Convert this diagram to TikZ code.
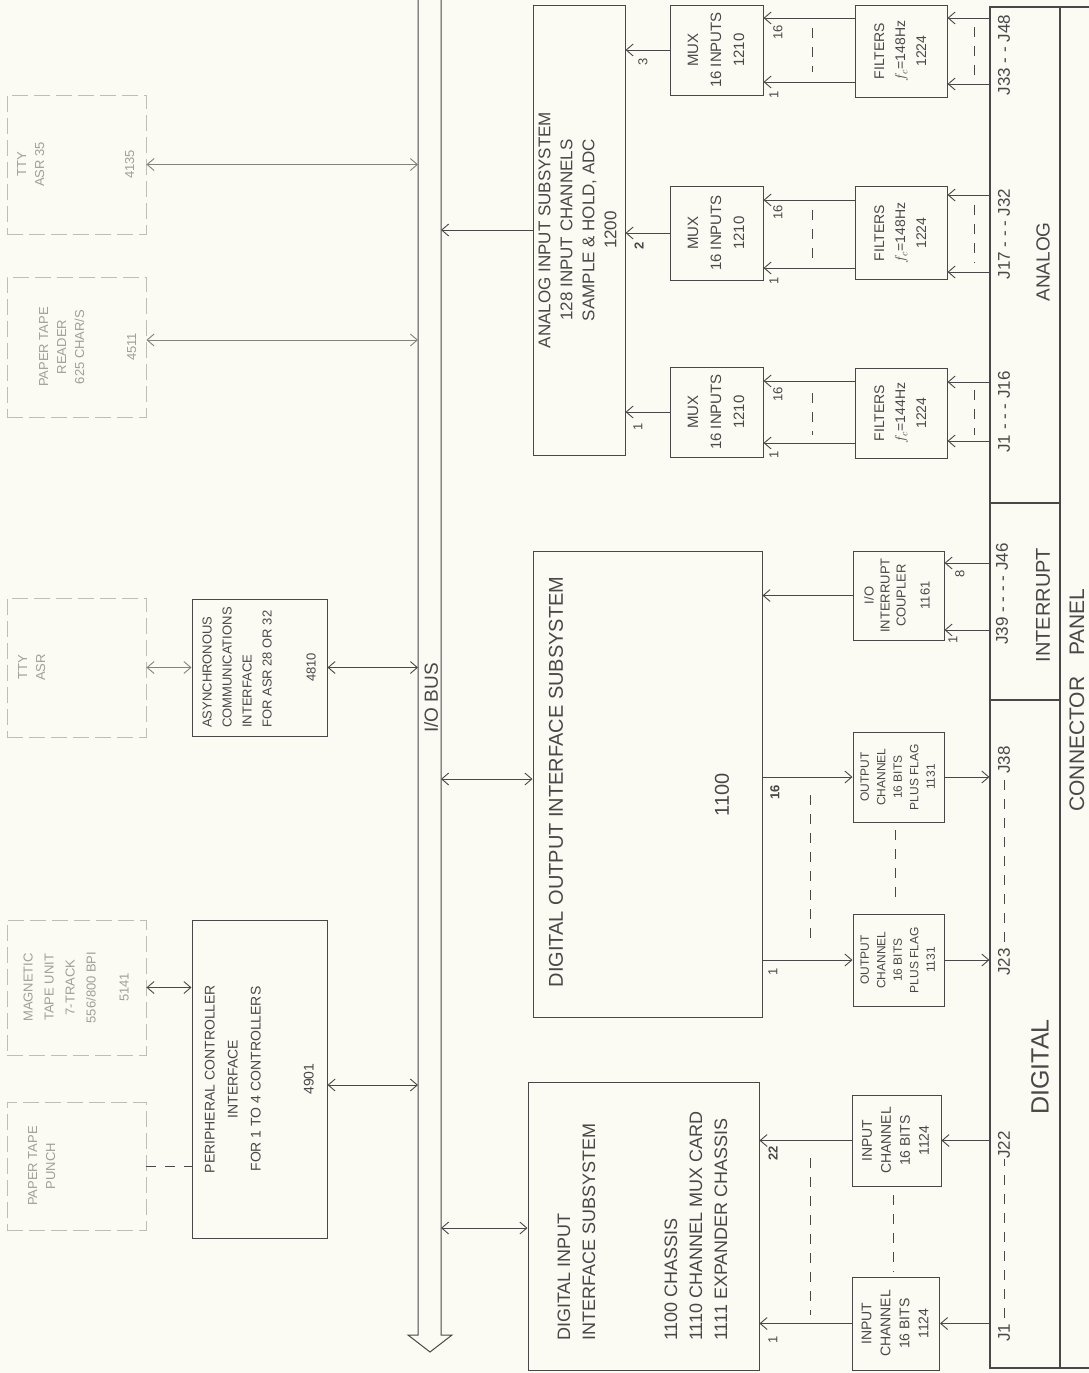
\documentclass[tikz,border=0pt]{standalone}
\usepackage{fontspec}
\setmainfont{Liberation Sans}
\usepackage{graphicx}
\usetikzlibrary{arrows.meta}
\definecolor{paper}{RGB}{251,251,244}
\definecolor{ink}{RGB}{72,72,72}
\definecolor{fade}{RGB}{190,190,184}
\definecolor{fadetext}{RGB}{160,160,155}
\definecolor{midgray}{RGB}{130,130,126}
\newcommand{\vtext}[2][c]{\rotatebox{90}{\begin{tabular}{@{}#1@{}}#2\end{tabular}}}

\begin{document}
\begin{tikzpicture}[
        x=1pt, y=-1pt,
        box/.style={draw=ink, line width=1pt, inner sep=0pt, text=ink},
        devbox/.style={draw=fade, line width=0.9pt, dash pattern=on 16pt off 6pt, inner sep=0pt, text=fadetext, font=\fontsize{13}{18}\selectfont},
        panel/.style={draw=ink, line width=1.1pt, inner sep=0pt},
        txt/.style={inner sep=0pt, text=ink},
        num/.style={txt, font=\fontsize{13}{15}\selectfont},
        jlab/.style={txt, font=\fontsize{17}{20}\selectfont},
        arrow/.style={-{Straight Barb[length=7pt,width=12pt]}, ink, line width=0.9pt},
        dblarrow/.style={{Straight Barb[length=7pt,width=12pt]}-{Straight Barb[length=7pt,width=12pt]}, ink, line width=0.9pt},
        gap/.style={ink, line width=0.9pt, dash pattern=on 10pt off 9pt}
    ]
        \useasboundingbox (0,0) rectangle (1089,1373);
        \fill[paper] (0,0) rectangle (1089,1373);

        % Peripherals (faded)
        \node[devbox, minimum width=139, minimum height=139] (tty35) at (76.5,164.5) {\vtext{TTY\\ASR 35\\[72pt]4135}};
        \node[devbox, minimum width=139, minimum height=140] (reader) at (76.5,347) {\vtext{\\[6pt]PAPER TAPE\\READER\\625 CHAR/S\\[34pt]4511}};
        \node[devbox, minimum width=139, minimum height=139] (tty28) at (76.5,667.5) {\vtext{TTY\\ASR\\[70pt]~}};
        \node[devbox, minimum width=139, minimum height=135, font=\fontsize{13}{21}\selectfont] (magtape) at (76.5,987.5) {\vtext{MAGNETIC\\TAPE UNIT\\7-TRACK\\556/800 BPI\\[12pt]5141}};
        \node[devbox, minimum width=139, minimum height=128] (punch) at (76.5,1166) {\vtext{PAPER TAPE\\PUNCH\\[50pt]~}};

        % Interfaces left of the bus
        \node[box, minimum width=135, minimum height=137, font=\fontsize{13}{20}\selectfont] (async) at (259.5,667.5) {\vtext[l]{ASYNCHRONOUS\\COMMUNICATIONS\\INTERFACE\\FOR ASR 28 OR 32\\[24pt]\multicolumn{1}{c}{4810}}};
        \node[box, minimum width=135, minimum height=318, font=\fontsize{14}{23}\selectfont] (periph) at (259.5,1079) {\vtext{PERIPHERAL CONTROLLER\\INTERFACE\\FOR 1 TO 4 CONTROLLERS\\[30pt]4901}};

        % I/O bus
        \coordinate (busL) at (418,0);
        \coordinate (busR) at (441,0);
        \draw[ink, line width=1pt] (busL |- 0,-5) -- (busL |- 0,1335) -- (408,1335) -- (430,1352) -- (452,1335) -- (busR |- 0,1335) -- (busR |- 0,-5);
        \node[txt, font=\fontsize{19}{22}\selectfont] (buslabel) at (431,698) {\rotatebox{90}{I/O BUS}};

        % Subsystems right of the bus
        \node[box, minimum width=92, minimum height=450, font=\fontsize{17}{22}\selectfont] (analog) at (579,230) {\vtext{ANALOG INPUT SUBSYSTEM\\128 INPUT CHANNELS\\SAMPLE \& HOLD, ADC\\1200}};
        \node[box, minimum width=229, minimum height=466] (dout) at (647.5,784) {};
        \node[txt, font=\fontsize{20}{24}\selectfont] (douttitle) at (556,782) {\rotatebox{90}{DIGITAL OUTPUT INTERFACE SUBSYSTEM}};
        \node[txt, font=\fontsize{20}{24}\selectfont] (doutnum) at (722,795) {\rotatebox{90}{1100}};
        \node[box, minimum width=231, minimum height=288, font=\fontsize{18}{25}\selectfont] (din) at (643.5,1226) {\vtext[l]{DIGITAL INPUT\\INTERFACE SUBSYSTEM\\[57pt]1100 CHASSIS\\1110 CHANNEL MUX CARD\\1111 EXPANDER CHASSIS}};

        % Multiplexers and filters
        \node[box, minimum width=93, minimum height=90, font=\fontsize{15}{23}\selectfont] (mux3) at (716.5,50) {\vtext{MUX\\16 INPUTS\\1210}};
        \node[box, minimum width=93, minimum height=94, font=\fontsize{15}{23}\selectfont] (mux2) at (716.5,233) {\vtext{MUX\\16 INPUTS\\1210}};
        \node[box, minimum width=93, minimum height=90, font=\fontsize{15}{23}\selectfont] (mux1) at (716.5,412) {\vtext{MUX\\16 INPUTS\\1210}};
        \node[box, minimum width=92, minimum height=92, font=\fontsize{14}{21}\selectfont] (filt3) at (901,51) {\vtext{FILTERS\\$f_c$=148Hz\\1224}};
        \node[box, minimum width=92, minimum height=93, font=\fontsize{14}{21}\selectfont] (filt2) at (901,233) {\vtext{FILTERS\\$f_c$=148Hz\\1224}};
        \node[box, minimum width=92, minimum height=90, font=\fontsize{14}{21}\selectfont] (filt1) at (901,413) {\vtext{FILTERS\\$f_c$=144Hz\\1224}};

        % Digital channel cards
        \node[box, minimum width=91, minimum height=89, font=\fontsize{13}{16}\selectfont] (coupler) at (898.5,595.5) {\vtext{I/O\\INTERRUPT\\COUPLER\\[8pt]1161}};
        \node[box, minimum width=91, minimum height=90, font=\fontsize{12}{16.5}\selectfont] (out1) at (898.5,777) {\vtext{OUTPUT\\CHANNEL\\16 BITS\\PLUS FLAG\\1131}};
        \node[box, minimum width=91, minimum height=92, font=\fontsize{12}{16.5}\selectfont] (out2) at (898.5,960) {\vtext{OUTPUT\\CHANNEL\\16 BITS\\PLUS FLAG\\1131}};
        \node[box, minimum width=89, minimum height=91, font=\fontsize{14}{19}\selectfont] (in1) at (896.5,1140.5) {\vtext{INPUT\\CHANNEL\\16 BITS\\1124}};
        \node[box, minimum width=87, minimum height=93, font=\fontsize{14}{19}\selectfont] (in2) at (896,1323.5) {\vtext{INPUT\\CHANNEL\\16 BITS\\1124}};

        % Connector panel
        \node[panel, minimum width=120, minimum height=1361] (cpanel) at (1050,687.5) {};
        \node[panel, minimum width=70, minimum height=496] (asec) at (1025,255) {};
        \node[panel, minimum width=70, minimum height=197] (isec) at (1025,601.5) {};
        \node[panel, minimum width=70, minimum height=668] (dsec) at (1025,1034) {};
        \node[txt, font=\fontsize{19}{22}\selectfont] (analoglab) at (1043,262) {\rotatebox{90}{ANALOG}};
        \node[txt, font=\fontsize{20}{22}\selectfont] (intlab) at (1043,605) {\rotatebox{90}{INTERRUPT}};
        \node[txt, font=\fontsize{25}{28}\selectfont] (diglab) at (1040,1067) {\rotatebox{90}{DIGITAL}};
        \node[txt, font=\fontsize{21}{24}\selectfont] (cplab) at (1077,700) {\rotatebox{90}{CONNECTOR\quad PANEL}};
        \node[jlab] (j3348) at (1004,55) {\rotatebox{90}{J33 - - J48}};
        \node[jlab] (j1732) at (1004,234) {\rotatebox{90}{J17 - - - J32}};
        \node[jlab] (j0116) at (1004,412) {\rotatebox{90}{J1 - - - J16}};
        \node[jlab] (j3946) at (1002,594) {\rotatebox{90}{J39 - - - - J46}};
        \node[jlab] (j38) at (1004,760) {\rotatebox{90}{J38}};
        \node[jlab] (j23) at (1004,962) {\rotatebox{90}{J23}};
        \node[jlab] (j22) at (1004,1145) {\rotatebox{90}{J22}};
        \node[jlab] (j01) at (1004,1333) {\rotatebox{90}{J1}};
        \draw[gap] ([yshift=6pt]j23.north) -- (j38.south);
        \draw[gap] ([yshift=6pt]j01.north) -- (j22.south);

        % Bus connections
        \draw[dblarrow, draw=midgray] (tty35.east) -- (busL |- tty35.east);
        \draw[dblarrow, draw=midgray] (reader.east |- 0,340) -- (busL |- 0,340);
        \draw[dblarrow, draw=midgray] (tty28.east) -- (async.west);
        \draw[dblarrow] (async.east) -- (busL |- async.east);
        \draw[dblarrow] (magtape.east) -- (periph.west |- magtape.east);
        \draw[gap] (punch.east) -- (periph.west |- punch.east);
        \draw[dblarrow] (periph.east |- 0,1085) -- (busL |- 0,1085);
        \draw[arrow] (analog.west) -- (busR |- analog.west);
        \draw[dblarrow] (busR |- 0,779) -- (dout.west |- 0,779);
        \draw[dblarrow] (busR |- 0,1228) -- (din.west |- 0,1228);

        % Analog channels
        \draw[arrow] (mux3.west) -- (analog.east |- mux3.west);
        \draw[arrow] (mux2.west) -- (analog.east |- mux2.west);
        \draw[arrow] (mux1.west) -- (analog.east |- mux1.west);
        \node[num] (lab3) at (643,62) {\rotatebox{90}{3}};
        \node[num, font=\fontsize{13}{15}\selectfont\bfseries] (lab2) at (639,246) {\rotatebox{90}{2}};
        \node[num] (lab1) at (638,427) {\rotatebox{90}{1}};

        \draw[arrow] (filt3.west |- 0,18) -- (mux3.east |- 0,18);
        \draw[arrow] (filt3.west |- 0,82) -- (mux3.east |- 0,82);
        \draw[arrow] (filt2.west |- 0,200) -- (mux2.east |- 0,200);
        \draw[arrow] (filt2.west |- 0,268) -- (mux2.east |- 0,268);
        \draw[arrow] (filt1.west |- 0,381) -- (mux1.east |- 0,381);
        \draw[arrow] (filt1.west |- 0,443) -- (mux1.east |- 0,443);
        \node[num] (m3a) at (778,32) {\rotatebox{90}{16}};
        \node[num] (m3b) at (774,95) {\rotatebox{90}{1}};
        \node[num] (m2a) at (778,212) {\rotatebox{90}{16}};
        \node[num] (m2b) at (774,281) {\rotatebox{90}{1}};
        \node[num] (m1a) at (778,394) {\rotatebox{90}{16}};
        \node[num] (m1b) at (774,455) {\rotatebox{90}{1}};
        \draw[gap] (812,28) -- (812,72);
        \draw[gap] (812,210) -- (812,260);
        \draw[gap] (812,393) -- (812,435);

        \draw[arrow] (asec.west |- 0,18) -- (filt3.east |- 0,18);
        \draw[arrow] (asec.west |- 0,84) -- (filt3.east |- 0,84);
        \draw[arrow] (asec.west |- 0,195) -- (filt2.east |- 0,195);
        \draw[arrow] (asec.west |- 0,272) -- (filt2.east |- 0,272);
        \draw[arrow] (asec.west |- 0,382) -- (filt1.east |- 0,382);
        \draw[arrow] (asec.west |- 0,441) -- (filt1.east |- 0,441);
        \draw[gap] (974,27) -- (974,78);
        \draw[gap] (974,205) -- (974,263);
        \draw[gap] (974,390) -- (974,435);

        % Digital output channels
        \draw[arrow] (coupler.west) -- (dout.east |- coupler.west);
        \draw[arrow] (isec.west |- 0,563) -- (coupler.east |- 0,563);
        \draw[arrow] (isec.west |- 0,630) -- (coupler.east |- 0,630);
        \node[num] (c8) at (960,574) {\rotatebox{90}{8}};
        \node[num] (c1) at (953,640) {\rotatebox{90}{1}};
        \draw[arrow] (dout.east |- out1.west) -- (out1.west);
        \draw[arrow] (out1.east) -- (dsec.west |- out1.east);
        \draw[arrow] (dout.east |- out2.west) -- (out2.west);
        \draw[arrow] (out2.east) -- (dsec.west |- out2.east);
        \node[num, font=\fontsize{13}{15}\selectfont\bfseries] (o16) at (775,792) {\rotatebox{90}{16}};
        \node[num] (o1) at (773,972) {\rotatebox{90}{1}};
        \draw[gap] (810,795) -- (810,945);
        \draw[gap] (895,830) -- (895,905);

        % Digital input channels
        \draw[arrow] (in1.west) -- (din.east |- in1.west);
        \draw[arrow] (dsec.west |- in1.east) -- (in1.east);
        \draw[arrow] (in2.west) -- (din.east |- in2.west);
        \draw[arrow] (dsec.west |- in2.east) -- (in2.east);
        \node[num, font=\fontsize{13}{15}\selectfont\bfseries] (i22) at (773,1153) {\rotatebox{90}{22}};
        \node[num] (i1) at (773,1340) {\rotatebox{90}{1}};
        \draw[gap] (810,1158) -- (810,1315);
        \draw[gap] (893,1195) -- (893,1272);

    \end{tikzpicture}
\end{document}
